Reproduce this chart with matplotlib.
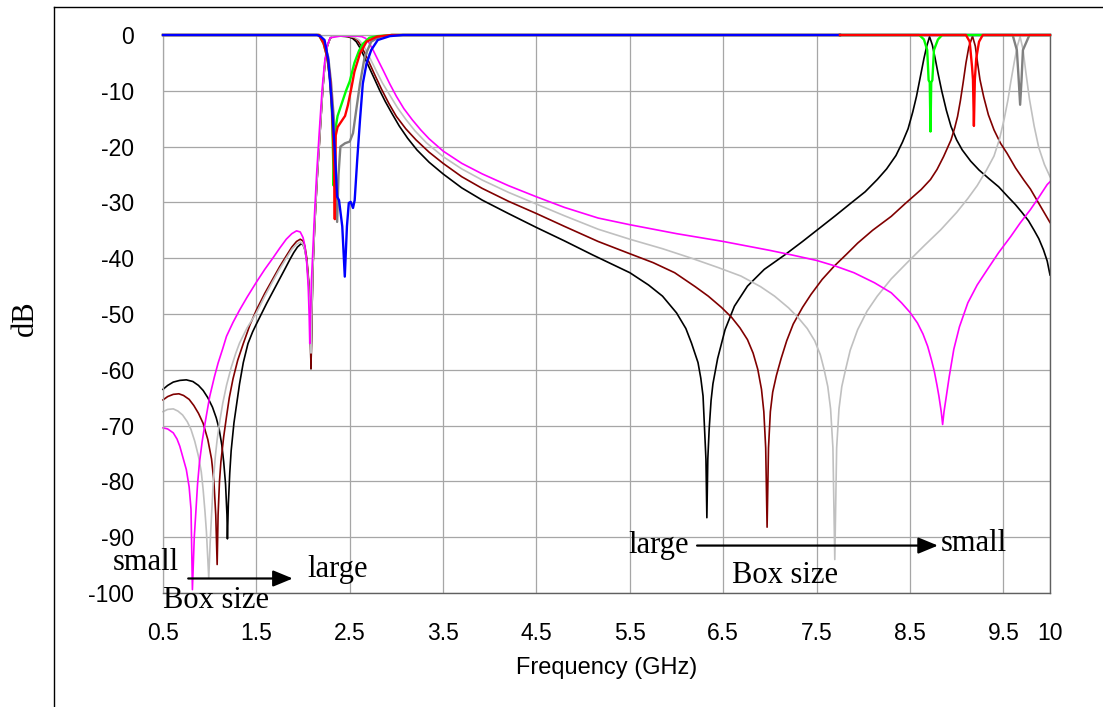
import numpy as np
import matplotlib
matplotlib.use("Agg")
import matplotlib.pyplot as plt
from matplotlib.lines import Line2D

# ---------------- data: insertion loss (S21) for four box sizes ----------------
s21_black_f = [0.50, 0.55, 0.61, 0.68, 0.75, 0.82, 0.88, 0.93, 0.98, 1.03, 1.07, 1.10, 1.13, 1.15,
               1.17, 1.185, 1.19, 1.20, 1.215, 1.23, 1.26, 1.29, 1.32, 1.36, 1.41, 1.46, 1.50,
               1.56, 1.61, 1.68, 1.75, 1.81, 1.86, 1.90, 1.94, 1.98, 2.00, 2.02, 2.04, 2.06,
               2.075, 2.085, 2.095, 2.105, 2.125, 2.15, 2.18, 2.21, 2.235, 2.26, 2.29, 2.32,
               2.40, 2.48, 2.53, 2.57, 2.61, 2.65, 2.70, 2.76, 2.82, 2.88, 2.95, 3.03, 3.12,
               3.22, 3.35, 3.50, 3.70, 3.92, 4.20, 4.50, 4.80, 5.10, 5.30, 5.50, 5.70, 5.85,
               6.00, 6.10, 6.16, 6.23, 6.26, 6.284, 6.30, 6.315, 6.325, 6.335, 6.35, 6.37,
               6.39, 6.44, 6.52, 6.62, 6.76, 6.94, 7.16, 7.35, 7.51, 7.70, 7.87, 8.02, 8.15,
               8.25, 8.35, 8.42, 8.48, 8.53, 8.57, 8.61, 8.65, 8.68, 8.71, 8.74, 8.77, 8.80,
               8.84, 8.89, 8.94, 9.00, 9.06, 9.15, 9.24, 9.35, 9.45, 9.55, 9.63, 9.70, 9.77,
               9.83, 9.88, 9.93, 9.97, 10.0]
s21_black_db = [-63.5, -62.8, -62.2, -61.9, -61.8, -62.1, -62.8, -63.7, -65.0, -66.7, -68.6,
                -70.5, -73.5, -76.5, -80.5, -86.0, -90.3, -84.0, -78.5, -74.5, -69.5, -66.0,
                -62.5, -58.7, -55.3, -53.2, -51.8, -49.8, -48.1, -45.9, -43.7, -41.8, -40.2,
                -39.0, -38.0, -37.4, -37.6, -38.5, -40.5, -44.5, -50.0, -59.8, -50.0, -42.0,
                -34.0, -26.0, -18.0, -10.0, -5.0, -2.0, -0.6, -0.2, -0.2, -0.3, -0.6, -1.2,
                -2.3, -3.7, -5.5, -7.7, -9.9, -11.9, -14.0, -16.3, -18.5, -20.6, -22.8, -24.9,
                -27.4, -29.6, -32.0, -34.5, -36.9, -39.4, -41.0, -42.6, -44.8, -46.8, -49.8,
                -52.6, -55.2, -58.7, -61.5, -64.7, -70.7, -76.0, -86.5, -76.0, -70.5, -65.5,
                -62.5, -58.0, -52.8, -48.6, -45.0, -42.0, -39.4, -37.0, -34.9, -32.4, -30.1,
                -28.1, -25.9, -24.0, -21.6, -19.2, -16.8, -13.8, -11.0, -7.6, -4.2, -2.0, -0.3,
                -1.8, -4.2, -6.8, -10.0, -13.5, -16.4, -18.8, -20.6, -22.6, -24.2, -25.8, -27.2,
                -29.0, -30.4, -31.8, -33.3, -35.0, -36.5, -38.5, -40.5, -43.0]

s21_darkred_f = [0.50, 0.55, 0.61, 0.67, 0.72, 0.78, 0.83, 0.88, 0.93, 0.98, 1.02, 1.045, 1.065,
                 1.08, 1.09, 1.105, 1.12, 1.15, 1.18, 1.21, 1.25, 1.30, 1.36, 1.43, 1.50, 1.59,
                 1.68, 1.75, 1.82, 1.88, 1.93, 1.97, 2.00, 2.02, 2.04, 2.06, 2.075, 2.085,
                 2.095, 2.105, 2.125, 2.15, 2.18, 2.21, 2.235, 2.26, 2.29, 2.32, 2.45, 2.53,
                 2.58, 2.62, 2.66, 2.71, 2.77, 2.84, 2.92, 3.00, 3.10, 3.21, 3.35, 3.50, 3.70,
                 3.92, 4.20, 4.50, 4.80, 5.16, 5.50, 5.75, 5.98, 6.20, 6.34, 6.48, 6.59, 6.68,
                 6.76, 6.82, 6.87, 6.91, 6.935, 6.955, 6.97, 6.985, 7.005, 7.03, 7.07, 7.12,
                 7.18, 7.25, 7.35, 7.44, 7.56, 7.69, 7.82, 7.94, 8.10, 8.30, 8.45, 8.62, 8.72,
                 8.79, 8.86, 8.94, 8.98, 9.01, 9.04, 9.07, 9.10, 9.13, 9.17, 9.20, 9.22, 9.25,
                 9.29, 9.34, 9.40, 9.47, 9.54, 9.63, 9.72, 9.79, 9.86, 9.93, 10.0]
s21_darkred_db = [-65.4, -64.8, -64.4, -64.3, -64.6, -65.3, -66.4, -67.8, -69.6, -72.5, -76.0,
                  -80.0, -86.0, -94.9, -86.0, -80.0, -76.5, -72.0, -68.4, -65.0, -61.6, -58.3,
                  -55.3, -52.0, -49.3, -46.3, -43.6, -41.5, -39.6, -38.0, -37.0, -36.6, -36.9,
                  -37.9, -40.0, -44.0, -50.0, -59.8, -50.0, -42.0, -34.0, -26.0, -18.0, -10.0,
                  -5.0, -2.0, -0.6, -0.2, -0.2, -0.4, -0.9, -1.9, -3.2, -5.0, -7.2, -9.7, -12.3,
                  -14.6, -16.8, -18.8, -21.0, -23.0, -25.4, -27.5, -29.8, -32.0, -34.3, -37.0,
                  -39.2, -40.8, -42.6, -45.1, -46.8, -48.8, -50.6, -52.5, -54.6, -57.0, -59.9,
                  -63.5, -67.5, -74.0, -88.2, -74.0, -67.5, -64.0, -61.0, -58.0, -54.8, -51.8,
                  -48.8, -46.5, -43.8, -41.4, -39.3, -37.3, -35.0, -32.5, -30.2, -27.7, -25.9,
                  -24.1, -21.8, -18.8, -16.6, -14.6, -11.8, -8.5, -5.0, -2.2, -0.2, -2.0, -4.5,
                  -8.0, -11.1, -14.3, -17.0, -19.4, -21.2, -23.8, -26.0, -27.6, -29.6, -31.6,
                  -33.6]

s21_silver_f = [0.50, 0.55, 0.61, 0.66, 0.71, 0.76, 0.80, 0.84, 0.88, 0.91, 0.93, 0.95, 0.965,
                0.99, 1.005, 1.02, 1.04, 1.06, 1.08, 1.11, 1.14, 1.18, 1.23, 1.28, 1.32, 1.40,
                1.50, 1.59, 1.68, 1.75, 1.82, 1.88, 1.93, 1.97, 2.00, 2.02, 2.04, 2.06, 2.075,
                2.085, 2.095, 2.105, 2.125, 2.15, 2.18, 2.21, 2.235, 2.26, 2.29, 2.32, 2.48,
                2.55, 2.60, 2.64, 2.68, 2.73, 2.78, 2.85, 2.93, 3.01, 3.10, 3.20, 3.32, 3.50,
                3.70, 3.92, 4.20, 4.50, 4.80, 5.16, 5.50, 5.85, 6.16, 6.45, 6.69, 6.90, 7.05,
                7.20, 7.30, 7.40, 7.48, 7.54, 7.58, 7.62, 7.65, 7.675, 7.695, 7.715, 7.74,
                7.77, 7.81, 7.86, 7.94, 8.04, 8.15, 8.30, 8.47, 8.65, 8.83, 9.00, 9.12, 9.22,
                9.32, 9.40, 9.46, 9.51, 9.55, 9.58, 9.62, 9.65, 9.68, 9.71, 9.74, 9.78, 9.83,
                9.88, 9.94, 10.0]
s21_silver_db = [-67.5, -67.1, -67.0, -67.4, -68.1, -69.3, -70.7, -72.8, -75.5, -78.3, -81.5,
                 -85.5, -89.0, -97.3, -91.0, -86.0, -79.7, -75.6, -72.5, -69.0, -66.0, -62.8,
                 -59.6, -57.0, -55.2, -52.5, -49.8, -46.8, -44.0, -41.9, -40.0, -38.4, -37.5,
                 -37.1, -37.5, -38.6, -40.6, -45.0, -51.0, -57.0, -49.0, -42.0, -34.0, -26.0,
                 -18.0, -10.0, -5.0, -2.0, -0.6, -0.2, -0.2, -0.4, -0.9, -1.7, -2.9, -4.6, -6.3,
                 -8.6, -10.8, -13.0, -15.1, -17.2, -19.3, -21.8, -24.0, -26.0, -28.2, -30.3,
                 -32.4, -34.8, -36.6, -38.3, -40.0, -41.7, -43.2, -45.1, -46.8, -48.9, -50.6,
                 -52.6, -54.8, -57.3, -59.9, -63.0, -67.0, -74.0, -94.0, -74.0, -67.0, -63.0,
                 -60.0, -56.5, -52.8, -49.5, -46.8, -43.7, -40.8, -37.8, -34.9, -31.8, -29.3,
                 -27.0, -24.2, -21.7, -18.6, -15.0, -11.6, -8.4, -4.6, -2.0, -0.3, -2.5, -6.5,
                 -11.5, -16.3, -20.2, -23.2, -25.4]

s21_magenta_f = [0.50, 0.55, 0.61, 0.65, 0.68, 0.71, 0.75, 0.78, 0.80, 0.815, 0.835, 0.85, 0.87,
                 0.89, 0.92, 0.95, 1.00, 1.05, 1.09, 1.14, 1.18, 1.25, 1.32, 1.40, 1.50, 1.59,
                 1.68, 1.75, 1.82, 1.88, 1.93, 1.97, 2.00, 2.02, 2.04, 2.055, 2.065, 2.072, 2.08,
                 2.09, 2.12, 2.145, 2.175, 2.205, 2.23, 2.26, 2.29, 2.40, 2.57, 2.63, 2.67,
                 2.71, 2.75, 2.80, 2.86, 2.93, 3.00, 3.08, 3.17, 3.26, 3.35, 3.50, 3.70, 3.92,
                 4.20, 4.50, 4.80, 5.16, 5.50, 6.00, 6.50, 7.00, 7.23, 7.50, 7.70, 7.90, 8.12,
                 8.30, 8.41, 8.50, 8.58, 8.64, 8.69, 8.73, 8.76, 8.79, 8.81, 8.835, 8.85, 8.865,
                 8.89, 8.92, 8.97, 9.03, 9.12, 9.22, 9.33, 9.45, 9.58, 9.68, 9.79, 9.88, 9.97,
                 10.0]
s21_magenta_db = [-70.4, -70.6, -71.3, -72.4, -73.7, -75.5, -77.9, -81.0, -85.0, -99.4, -90.0,
                  -86.0, -80.5, -76.7, -72.8, -69.6, -64.8, -61.3, -58.8, -56.2, -54.0, -51.5,
                  -49.3, -47.0, -44.3, -42.0, -39.9, -38.2, -36.6, -35.6, -35.1, -35.3, -36.3,
                  -37.8, -41.0, -45.0, -50.0, -55.3, -50.0, -44.0, -33.0, -25.0, -17.0, -9.5,
                  -5.0, -1.8, -0.5, -0.2, -0.2, -0.3, -0.6, -1.5, -2.7, -4.4, -6.4, -8.8, -11.0,
                  -13.2, -15.2, -17.0, -18.6, -20.8, -23.0, -24.9, -27.0, -29.0, -30.9, -32.8,
                  -34.0, -35.6, -37.0, -38.6, -39.4, -40.4, -41.4, -42.6, -44.4, -46.2, -48.0,
                  -49.7, -51.6, -53.6, -55.8, -58.2, -60.2, -62.8, -64.7, -67.5, -69.8, -67.5,
                  -64.7, -61.3, -56.3, -52.3, -48.0, -44.8, -42.0, -39.0, -36.1, -33.7, -31.3,
                  -29.1, -26.8, -26.3]

# ---------------- data: return loss (S11) for four box sizes ----------------
s11_green_f = [0.50, 2.17, 2.22, 2.26, 2.29, 2.31, 2.322, 2.328, 2.345, 2.37, 2.41, 2.46, 2.50,
               2.55, 2.60, 2.64, 2.71, 2.80, 2.95, 7.75, 8.60, 8.65, 8.685, 8.70, 8.712, 8.72,
               8.728, 8.74, 8.757, 8.80, 8.845, 10.0]
s11_green_db = [0.0, 0.0, -1.5, -4.0, -8.0, -14.0, -22.0, -27.0, -17.0, -14.5, -12.5, -10.0, -8.3,
                -5.0, -2.8, -1.6, -0.5, -0.2, 0.0, 0.0, 0.0, -0.8, -2.7, -8.1, -8.5, -17.3, -8.5,
                -8.1, -2.7, -0.8, 0.0, 0.0]

s11_red_f = [0.50, 2.17, 2.22, 2.26, 2.29, 2.31, 2.325, 2.335, 2.34, 2.35, 2.37, 2.41, 2.45, 2.48,
             2.52, 2.55, 2.61, 2.68, 2.79, 2.95, 7.75, 9.10, 9.14, 9.165, 9.175, 9.185, 9.195,
             9.21, 9.24, 9.28, 10.0]
s11_red_db = [0.0, 0.0, -1.5, -4.0, -8.0, -13.0, -20.0, -27.0, -33.0, -18.0, -16.5, -15.5, -14.5,
              -12.6, -9.3, -6.6, -3.3, -1.2, -0.3, 0.0, 0.0, 0.0, -1.2, -5.7, -8.0, -16.3, -8.0,
              -4.2, -1.2, 0.0, 0.0]

s11_gray_f = [0.50, 2.18, 2.23, 2.27, 2.30, 2.33, 2.35, 2.365, 2.38, 2.40, 2.45, 2.50, 2.535, 2.57,
              2.61, 2.66, 2.73, 2.82, 2.95, 7.75, 9.60, 9.645, 9.665, 9.68, 9.695, 9.71, 9.78, 10.0]
s11_gray_db = [0.0, 0.0, -1.5, -4.0, -8.5, -15.0, -24.0, -33.5, -25.0, -20.0, -19.4, -19.1, -17.6,
               -13.4, -8.7, -3.9, -1.2, -0.3, 0.0, 0.0, 0.0, -2.7, -8.1, -12.5, -8.1, -2.7, 0.0, 0.0]

s11_blue_f = [0.50, 2.15, 2.19, 2.23, 2.27, 2.305, 2.34, 2.365, 2.385, 2.42, 2.447, 2.47, 2.49,
              2.51, 2.535, 2.553, 2.58, 2.61, 2.64, 2.68, 2.73, 2.80, 2.93, 3.07, 7.75, 10.0]
s11_blue_db = [0.0, 0.0, -0.3, -0.9, -4.5, -11.6, -20.6, -29.0, -29.6, -34.3, -43.3, -34.3,
               -30.1, -29.9, -31.0, -29.6, -22.4, -15.2, -8.7, -5.1, -2.7, -0.9, -0.2, 0.0,
               0.0, 0.0]

x_ticks = [0.5, 1.5, 2.5, 3.5, 4.5, 5.5, 6.5, 7.5, 8.5, 9.5, 10]
x_tick_labels = ["0.5", "1.5", "2.5", "3.5", "4.5", "5.5", "6.5", "7.5", "8.5", "9.5", "10"]
y_ticks = [0, -10, -20, -30, -40, -50, -60, -70, -80, -90, -100]
y_tick_labels = ["0", "-10", "-20", "-30", "-40", "-50", "-60", "-70", "-80", "-90", "-100"]

# ---------------- figure ----------------
W, H = 1103, 707
fig = plt.figure(figsize=(W / 100, H / 100), dpi=100)
fig.patch.set_facecolor("white")

ax = fig.add_axes([163 / W, 1 - 593 / H, (1050 - 163) / W, (593 - 35) / H])
ax.set_xlim(0.5, 10)
ax.set_ylim(-100, 0)

sans = "Liberation Sans"
serif = "Liberation Serif"

ax.set_xticks(x_ticks)
ax.set_xticklabels(x_tick_labels, fontfamily=sans, fontsize=16.5)
ax.set_yticks(y_ticks)
ax.set_yticklabels(y_tick_labels, fontfamily=sans, fontsize=16.5)
ax.tick_params(axis="both", length=0)
ax.tick_params(axis="x", pad=21)
ax.tick_params(axis="y", pad=21)
ax.grid(True, color="#a6a6a6", linewidth=0.9)
ax.set_axisbelow(True)
for side in ("left", "top"):
    ax.spines[side].set_color("#a6a6a6")
    ax.spines[side].set_linewidth(0.9)
for side in ("right", "bottom"):
    ax.spines[side].set_color("#606060")
    ax.spines[side].set_linewidth(1.0)

# S21 traces
s21 = [
    (s21_black_f, s21_black_db, "#000000"),
    (s21_darkred_f, s21_darkred_db, "#800000"),
    (s21_silver_f, s21_silver_db, "#c0c0c0"),
    (s21_magenta_f, s21_magenta_db, "#ff00ff"),
]
for f, db, c in s21:
    ax.plot(f, db, color=c, lw=1.2, zorder=2.5, clip_on=False, solid_joinstyle="round")

# S11 traces: drawn per band so the upper band stacks in a different order
s11 = {
    "green": (s11_green_f, s11_green_db, "#00ff00"),
    "gray": (s11_gray_f, s11_gray_db, "#808080"),
    "red": (s11_red_f, s11_red_db, "#ff0000"),
    "blue": (s11_blue_f, s11_blue_db, "#0000ff"),
}
low_order = ["green", "gray", "red", "blue"]
high_order = ["blue", "gray", "green", "red"]
split = 7.75
for i, name in enumerate(low_order):
    f, db, c = s11[name]
    f = np.asarray(f); db = np.asarray(db)
    m = f <= split
    ax.plot(f[m], db[m], color=c, lw=1.7, zorder=3 + 0.1 * i, clip_on=False,
            solid_joinstyle="round")
for i, name in enumerate(high_order):
    f, db, c = s11[name]
    f = np.asarray(f); db = np.asarray(db)
    m = f >= split
    ax.plot(f[m], db[m], color=c, lw=1.7, zorder=3 + 0.1 * i, clip_on=False,
            solid_joinstyle="round")

# annotations: box-size trends
tk = dict(fontfamily=serif, fontsize=22, color="black", ha="left", va="baseline",
          clip_on=False, zorder=6)
ax.text(-0.035, -95.9, "small", **tk)
ax.text(2.05, -97.1, "large", **tk)
ax.text(0.50, -102.7, "Box size", **tk)
ax.text(5.48, -92.9, "large", **tk)
ax.text(8.83, -92.5, "small", **tk)
ax.text(6.59, -98.2, "Box size", **tk)

arrow = dict(arrowstyle="-|>,head_length=0.8,head_width=0.33", color="black", lw=1.6,
             shrinkA=0, shrinkB=0, mutation_scale=15)
ax.annotate("", xy=(1.89, -97.4), xytext=(0.77, -97.4), arrowprops=arrow,
            annotation_clip=False, zorder=6)
ax.annotate("", xy=(8.80, -91.5), xytext=(6.22, -91.5), arrowprops=arrow,
            annotation_clip=False, zorder=6)

# axis titles
fig.text(607 / W, 1 - 668 / H, "Frequency (GHz)", fontfamily=sans, fontsize=17,
         ha="center", va="center")
fig.text(25.5 / W, 1 - 318 / H, "dB", fontfamily=serif, fontsize=22, rotation=90,
         ha="center", va="center")

# outer frame
fig.add_artist(Line2D([53.5 / W, 53.5 / W], [0, 1 - 6.5 / H], color="black", lw=1.0,
                      transform=fig.transFigure))
fig.add_artist(Line2D([53.5 / W, 1.0], [1 - 6.5 / H, 1 - 6.5 / H], color="black", lw=1.0,
                      transform=fig.transFigure))

fig.savefig("out.png", dpi=100, facecolor="white")
